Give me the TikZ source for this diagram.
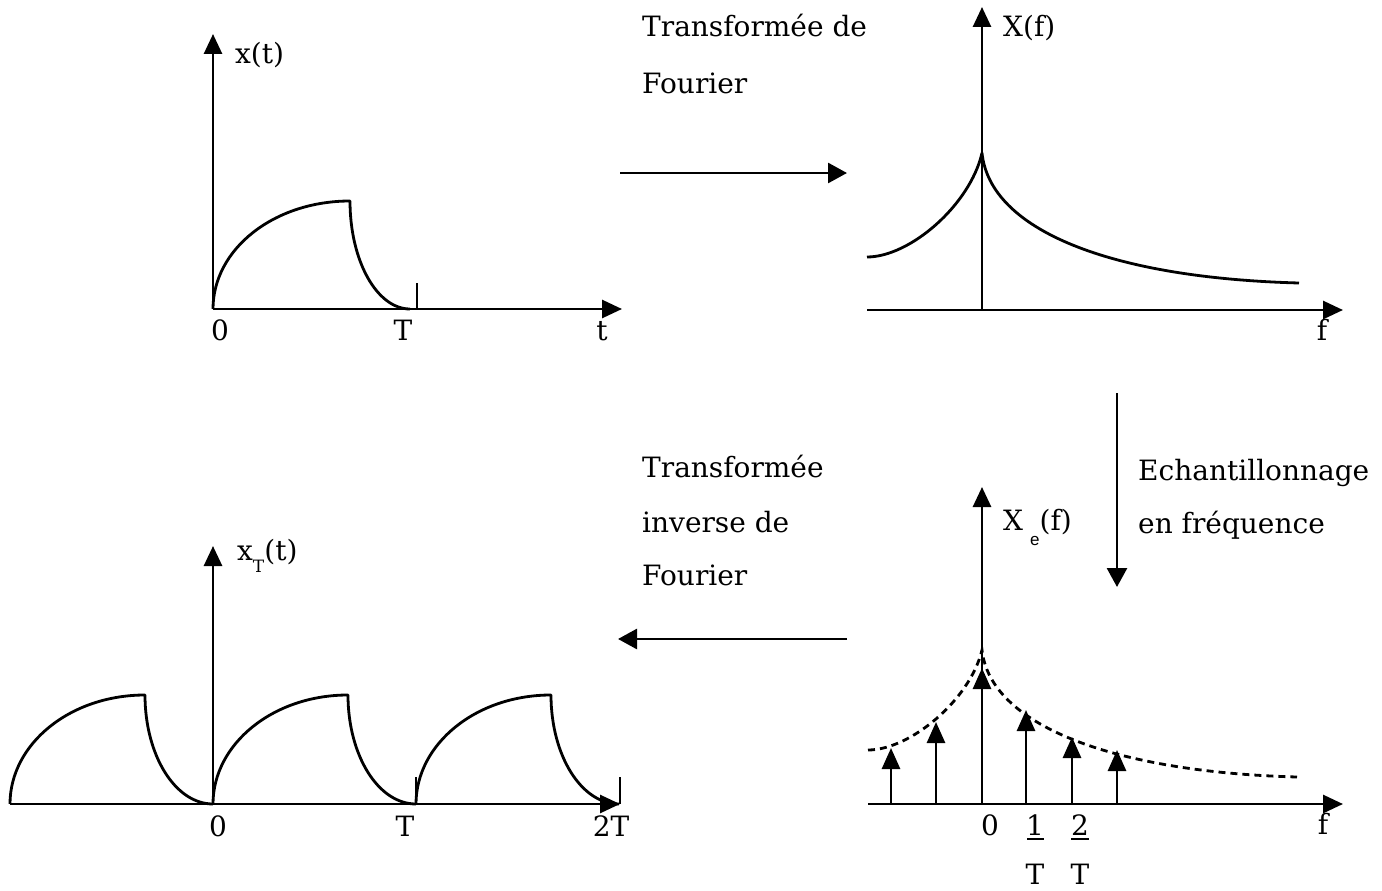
\documentclass[tikz,border=0pt]{standalone}
\usepackage{fontspec}
\setmainfont{DejaVu Serif}
\newfontfamily\subsans{Liberation Sans}
\usetikzlibrary{arrows.meta}
\begin{document}
\begin{tikzpicture}[x=1pt,y=-1pt,
  ln/.style={line width=2.8pt},
  axis/.style={ln,-{Triangle[length=20pt,width=18pt]}},
  flow/.style={ln,-{Triangle[length=19pt,width=20pt]}},
  stem/.style={ln,-{Triangle[length=21pt,width=18pt]}},
  sig/.style={ln,line join=round},
  env/.style={ln,dash pattern=on 7pt off 5pt},
  tickmark/.style={line width=2.4pt},
  lbl/.style={inner sep=0pt,anchor=base west,font=\fontsize{28}{32}\selectfont},
  clbl/.style={inner sep=0pt,anchor=base,font=\fontsize{28}{32}\selectfont}]
\useasboundingbox (0,0) rectangle (1382,891);

% ---------- top-left: x(t)
\coordinate (ao) at (213,309);
\coordinate (ay) at (213,34);
\coordinate (ax) at (622,309);
\coordinate (ap) at (350,201);
\coordinate (ae) at (410,309);
\coordinate (at1) at (417,283);
\coordinate (at0) at (417,309);
\draw[axis] (ao) -- (ay);
\draw[axis] (ao) -- (ax);
\draw[sig] (ao) .. controls (213,249) and (274,201) .. (ap)
               .. controls (350,261) and (377,309) .. (ae);
\draw[tickmark] (at0) -- (at1);
\node[lbl] (xt) at (235,64) {x(t)};
\node[clbl] (l0a) at (220,340) {0};
\node[clbl] (lTa) at (403,340) {T};
\node[clbl] (lta) at (602,340) {t};

% ---------- top arrow
\coordinate (fa0) at (620,173);
\coordinate (fa1) at (847,173);
\draw[flow] (fa0) -- (fa1);
\node[lbl] (tf1) at (642,37) {Transformée de};
\node[lbl] (tf2) at (642,93) {Fourier};

% ---------- top-right: X(f)
\coordinate (bo) at (982,310);
\coordinate (by) at (982,7);
\coordinate (bxl) at (867,310);
\coordinate (bx) at (1343,310);
\coordinate (bl) at (867,257);
\coordinate (bp) at (982,153);
\coordinate (br) at (1299,283);
\draw[axis] (bo) -- (by);
\draw[axis] (bxl) -- (bx);
\draw[sig] (bl) .. controls (910,257) and (970,205) .. (bp)
               .. controls (990,230) and (1110,278) .. (br);
\node[lbl] (Xf) at (1003,37) {X(f)};
\node[clbl] (lfb) at (1322,340) {f};

% ---------- down arrow
\coordinate (da0) at (1117,393);
\coordinate (da1) at (1117,587);
\draw[flow] (da0) -- (da1);
\node[lbl] (ech1) at (1138,480) {Echantillonnage};
\node[lbl] (ech2) at (1138,533) {en fréquence};

% ---------- bottom-right: Xe(f)
\coordinate (co) at (982,804);
\coordinate (cy) at (982,487);
\coordinate (cxl) at (868,804);
\coordinate (cx) at (1343,804);
\coordinate (cl) at (868,750);
\coordinate (cp) at (982,650);
\coordinate (cr) at (1297,777);
\draw[axis] (co) -- (cy);
\draw[axis] (cxl) -- (cx);
\draw[env] (cl) .. controls (910,750) and (970,700) .. (cp)
                .. controls (990,724) and (1110,772) .. (cr);
\foreach \i/\sx/\sy in {1/891/748,2/936/722,3/982/668,4/1026/710,5/1072/737,6/1117/750}{
  \coordinate (sb\i) at (\sx,804);
  \coordinate (st\i) at (\sx,\sy);
  \draw[stem] (sb\i) -- (st\i);
}
\node[lbl] (Xef) at (1003,530) {X\hspace{7pt}\raisebox{-15pt}{\subsans\fontsize{17}{17}\selectfont e}(f)};
\node[clbl] (l0d) at (990,835) {0};
\node[clbl] (l1d) at (1035,835) {1};
\node[clbl] (l2d) at (1080,835) {2};
\draw[tickmark] (1027,839) -- (1044,839);
\draw[tickmark] (1071,839) -- (1089,839);
\node[clbl] (lT1) at (1035,884) {T};
\node[clbl] (lT2) at (1080,884) {T};
\node[clbl] (lfd) at (1323,834) {f};

% ---------- left arrow
\coordinate (ga0) at (847,639);
\coordinate (ga1) at (618,639);
\draw[flow] (ga0) -- (ga1);
\node[lbl] (ti1) at (642,477) {Transformée};
\node[lbl] (ti2) at (642,532) {inverse de};
\node[lbl] (ti3) at (642,585) {Fourier};

% ---------- bottom-left: xT(t)
\coordinate (do) at (213,804);
\coordinate (dy) at (213,546);
\coordinate (dxl) at (10,804);
\coordinate (dx) at (620,804);
\draw[axis] (do) -- (dy);
\draw[axis] (dxl) -- (dx);
\foreach \s in {-203,0,203}{
  \draw[sig] (10+\s+203,804) ..controls (10+\s+203,744) and (70+\s+203,695) .. (145+\s+203,695)
             .. controls (145+\s+203,755) and (175+\s+203,804) .. (213+\s+203,804);
}
\draw[tickmark] (416,777) -- (416,804);
\draw[tickmark] (620,777) -- (620,804);
\node[lbl] (xTt) at (237,560) {x\raisebox{-12pt}{\fontsize{17}{17}\selectfont T}(t)};
\node[clbl] (l0c) at (218,836) {0};
\node[clbl] (lTc) at (405,836) {T};
\node[clbl] (l2Tc) at (611,836) {2T};
\end{tikzpicture}
\end{document}
